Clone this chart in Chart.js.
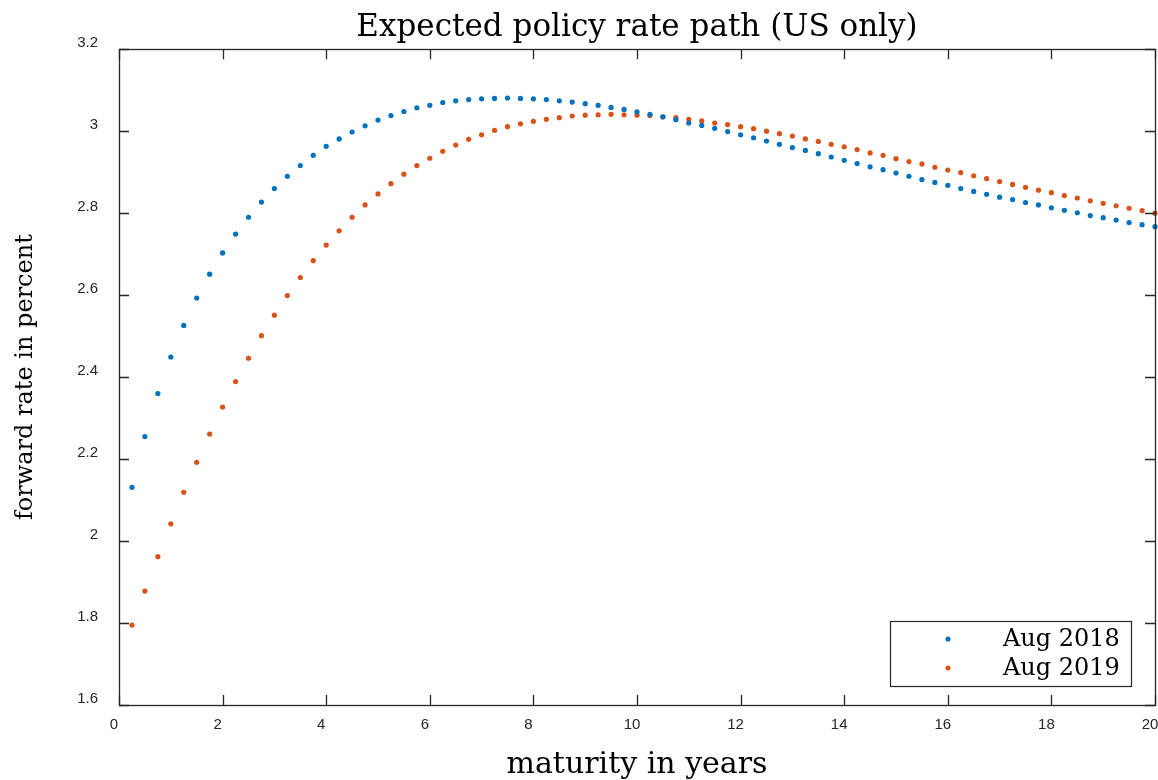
<!DOCTYPE html>
<html>
<head>
<meta charset="utf-8">
<title>Expected policy rate path (US only)</title>
<script src="https://cdn.jsdelivr.net/npm/chart.js@4.4.1/dist/chart.umd.min.js"></script>
<style>
    html, body { margin: 0; padding: 0; background: #ffffff; }
    #chart { display: block; }
</style>
</head>
<body>
<canvas id="chart" width="1158" height="780"></canvas>
<script>
// maturities in years (quarterly steps)
const maturities = [
    0.25, 0.5, 0.75, 1, 1.25, 1.5, 1.75, 2,
    2.25, 2.5, 2.75, 3, 3.25, 3.5, 3.75, 4,
    4.25, 4.5, 4.75, 5, 5.25, 5.5, 5.75, 6,
    6.25, 6.5, 6.75, 7, 7.25, 7.5, 7.75, 8,
    8.25, 8.5, 8.75, 9, 9.25, 9.5, 9.75, 10,
    10.25, 10.5, 10.75, 11, 11.25, 11.5, 11.75, 12,
    12.25, 12.5, 12.75, 13, 13.25, 13.5, 13.75, 14,
    14.25, 14.5, 14.75, 15, 15.25, 15.5, 15.75, 16,
    16.25, 16.5, 16.75, 17, 17.25, 17.5, 17.75, 18,
    18.25, 18.5, 18.75, 19, 19.25, 19.5, 19.75, 20
];

// forward rate in percent, Aug 2018
const aug2018 = [
    2.131, 2.255, 2.360, 2.449, 2.526, 2.593, 2.651, 2.703,
    2.749, 2.790, 2.827, 2.860, 2.890, 2.916, 2.941, 2.963,
    2.981, 2.998, 3.013, 3.027, 3.038, 3.048, 3.057, 3.063,
    3.070, 3.074, 3.077, 3.079, 3.080, 3.081, 3.080, 3.079,
    3.077, 3.074, 3.071, 3.067, 3.063, 3.058, 3.053, 3.047,
    3.041, 3.035, 3.028, 3.020, 3.014, 3.007, 2.999, 2.991,
    2.984, 2.976, 2.968, 2.960, 2.953, 2.945, 2.937, 2.929,
    2.921, 2.913, 2.906, 2.898, 2.890, 2.882, 2.875, 2.868,
    2.860, 2.853, 2.846, 2.839, 2.833, 2.826, 2.820, 2.813,
    2.807, 2.801, 2.794, 2.789, 2.783, 2.777, 2.772, 2.767
];

// forward rate in percent, Aug 2019
const aug2019 = [
    1.795, 1.878, 1.962, 2.042, 2.119, 2.192, 2.261, 2.327,
    2.389, 2.446, 2.501, 2.551, 2.599, 2.643, 2.684, 2.722,
    2.757, 2.790, 2.820, 2.847, 2.872, 2.895, 2.916, 2.934,
    2.951, 2.966, 2.980, 2.991, 3.002, 3.011, 3.018, 3.024,
    3.029, 3.033, 3.037, 3.039, 3.040, 3.041, 3.040, 3.039,
    3.038, 3.035, 3.033, 3.029, 3.025, 3.020, 3.016, 3.011,
    3.006, 3.000, 2.994, 2.988, 2.981, 2.975, 2.968, 2.962,
    2.955, 2.947, 2.941, 2.933, 2.926, 2.920, 2.912, 2.905,
    2.899, 2.891, 2.884, 2.877, 2.870, 2.863, 2.856, 2.850,
    2.843, 2.837, 2.830, 2.824, 2.818, 2.812, 2.806, 2.800
];

const seriesLabels = ['Aug 2018', 'Aug 2019'];
const seriesColors = ['#0072BD', '#D95319'];

const xTicks = [0, 2, 4, 6, 8, 10, 12, 14, 16, 18, 20];
const yTicks = [1.6, 1.8, 2, 2.2, 2.4, 2.6, 2.8, 3, 3.2];

const axisColor = '#262626';
const serif = "'DejaVu Serif', serif";
const sans = "'Liberation Sans', Arial, sans-serif";

function toPoints(values) {
    return maturities.map((m, i) => ({ x: m, y: values[i] }));
}

// matlab style labels: 3 instead of 3.0
function shortLabel(value) {
    return String(Number(value.toFixed(1)));
}

// box around the axes with ticks pointing inwards, like the original figure
const frameTicks = {
    id: 'frameTicks',
    afterDatasetsDraw(chart) {
        const { ctx, chartArea: a, scales } = chart;
        const len = 10;
        ctx.save();
        ctx.strokeStyle = axisColor;
        ctx.lineWidth = 1.3;
        ctx.beginPath();
        scales.x.ticks.forEach(t => {
            const px = Math.round(scales.x.getPixelForValue(t.value)) + 0.5;
            ctx.moveTo(px, a.bottom); ctx.lineTo(px, a.bottom - len);
            ctx.moveTo(px, a.top); ctx.lineTo(px, a.top + len);
        });
        scales.y.ticks.forEach(t => {
            const py = Math.round(scales.y.getPixelForValue(t.value)) + 0.5;
            ctx.moveTo(a.left, py); ctx.lineTo(a.left + len, py);
            ctx.moveTo(a.right, py); ctx.lineTo(a.right - len, py);
        });
        ctx.stroke();
        ctx.strokeRect(Math.round(a.left) + 0.5, Math.round(a.top) + 0.5,
            Math.round(a.right - a.left), Math.round(a.bottom - a.top));
        ctx.restore();
    }
};

// legend box in the lower right corner of the axes
const insideLegend = {
    id: 'insideLegend',
    afterDraw(chart) {
        const { ctx, chartArea: a } = chart;
        const w = 241, h = 65;
        const x0 = a.right - 24 - w;
        const y0 = a.bottom - 19 - h;
        ctx.save();
        ctx.fillStyle = '#ffffff';
        ctx.fillRect(x0, y0, w, h);
        ctx.strokeStyle = axisColor;
        ctx.lineWidth = 1.2;
        ctx.strokeRect(Math.round(x0) + 0.5, Math.round(y0) + 0.5, w, h);
        ctx.font = "24px " + serif;
        ctx.textBaseline = 'alphabetic';
        ctx.textAlign = 'left';
        chart.data.datasets.forEach((ds, i) => {
            const rowY = y0 + 18 + i * 29;
            ctx.fillStyle = ds.backgroundColor;
            ctx.beginPath();
            ctx.arc(x0 + 58, rowY, 2.6, 0, Math.PI * 2);
            ctx.fill();
            ctx.fillStyle = '#000000';
            ctx.fillText(ds.label, x0 + 113, rowY + 7);
        });
        ctx.restore();
    }
};

new Chart(document.getElementById('chart'), {
    type: 'scatter',
    data: {
        datasets: seriesLabels.map((label, i) => ({
            label: label,
            data: toPoints(i === 0 ? aug2018 : aug2019),
            backgroundColor: seriesColors[i],
            borderColor: seriesColors[i],
            borderWidth: 0,
            pointRadius: 2.6,
            pointHoverRadius: 2.6,
            showLine: false,
            clip: false
        }))
    },
    options: {
        responsive: false,
        animation: false,
        events: [],
        layout: { padding: { left: 0, right: 3, top: 0, bottom: 0 } },
        plugins: {
            legend: { display: false },
            tooltip: { enabled: false },
            title: {
                display: true,
                fullSize: false,
                text: 'Expected policy rate path (US only)',
                color: '#000000',
                font: { family: serif, size: 31, weight: 'normal', lineHeight: 1.2 },
                padding: { top: 9, bottom: 3 }
            }
        },
        scales: {
            x: {
                type: 'linear',
                min: 0,
                max: 20,
                afterBuildTicks: scale => { scale.ticks = xTicks.map(v => ({ value: v })); },
                afterFit: scale => {
                    scale.height = 75;
                    scale.paddingLeft = 0;
                    scale.paddingRight = 0;
                },
                grid: { display: false, drawTicks: false },
                border: { display: false },
                ticks: {
                    color: axisColor,
                    font: { family: sans, size: 15 },
                    padding: 11,
                    labelOffset: -5,
                    maxRotation: 0
                },
                title: {
                    display: true,
                    text: 'maturity in years',
                    color: '#000000',
                    font: { family: serif, size: 30, lineHeight: 1 },
                    padding: { top: 0, bottom: 0 }
                }
            },
            y: {
                type: 'linear',
                min: 1.6,
                max: 3.2,
                afterBuildTicks: scale => { scale.ticks = yTicks.map(v => ({ value: v })); },
                afterFit: scale => {
                    scale.width = 119;
                    scale.paddingTop = 0;
                    scale.paddingBottom = 0;
                },
                grid: { display: false, drawTicks: false },
                border: { display: false },
                ticks: {
                    color: axisColor,
                    font: { family: sans, size: 15 },
                    padding: 21,
                    labelOffset: -6,
                    callback: shortLabel
                },
                title: {
                    display: true,
                    text: 'forward rate in percent',
                    color: '#000000',
                    font: { family: serif, size: 24, lineHeight: 1 },
                    padding: { top: 14, bottom: 0 }
                }
            }
        }
    },
    plugins: [frameTicks, insideLegend]
});
</script>
</body>
</html>
